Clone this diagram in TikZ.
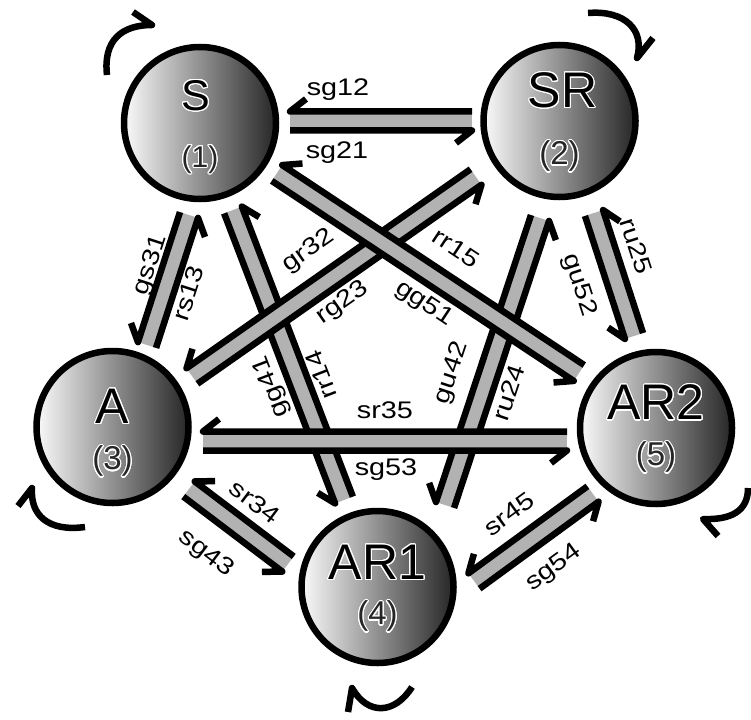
\documentclass[tikz,border=0pt]{standalone}
\usepackage{fontspec}
\setmainfont{Liberation Sans}
\newfontfamily\lblfont[FakeStretch=1.2]{Liberation Sans}
\usepackage{contour}
\contourlength{1.1pt}
\contournumber{24}
\usetikzlibrary{calc}
\tikzset{
  state/.style={circle, minimum size=152pt, inner sep=0pt, draw=black, line width=6.5pt,
    left color=black!2, right color=black!85},
  nm/.style={inner sep=0pt, font=\fontsize{50}{50}\selectfont},
  nmsmall/.style={inner sep=0pt, font=\fontsize{43}{43}\selectfont},
  num/.style={inner sep=0pt, font=\fontsize{33}{33}\selectfont, text=black!85},
  lbl/.style={inner sep=0pt, font=\lblfont\fontsize{24}{24}\selectfont},
  bandgray/.style={line width=20pt, draw=black!30},
  bandline/.style={line width=6.5pt, line join=round, draw=black},
  loopline/.style={line width=6.5pt, line join=round, draw=black}
}
\newcommand\dband[2]{%
  \draw[bandgray] (#1) -- (#2);
  \coordinate (u1) at ($(#1)!9.5pt!-90:(#2)$);
  \coordinate (u2) at ($(#2)!9.5pt!90:(#1)$);
  \coordinate (um) at ($(#2)!16pt!(#1)$);
  \coordinate (u3) at ($(um)!22pt!-90:(#2)$);
  \draw[bandline] (u1) -- (u2) -- (u3);
  \coordinate (v1) at ($(#2)!9.5pt!-90:(#1)$);
  \coordinate (v2) at ($(#1)!9.5pt!90:(#2)$);
  \coordinate (vm) at ($(#1)!16pt!(#2)$);
  \coordinate (v3) at ($(vm)!22pt!-90:(#1)$);
  \draw[bandline] (v1) -- (v2) -- (v3);
}
\begin{document}
\begin{tikzpicture}[x=1pt,y=-1pt]
\useasboundingbox (0,0) rectangle (751,719);

% states
\node[state] (S)   at (200,123) {};
\node[state] (SR)  at (559.5,121) {};
\node[state] (A)   at (112.5,427) {};
\node[state] (AR1) at (377.5,587) {};
\node[state] (AR2) at (656,428) {};

% band end points
\coordinate (e12a) at (290,121);  \coordinate (e12b) at (472,121);
\coordinate (e13a) at (189,215);  \coordinate (e13b) at (147,345);
\coordinate (e14a) at (233,210);  \coordinate (e14b) at (344,500);
\coordinate (e15a) at (277,173);  \coordinate (e15b) at (579,373);
\coordinate (e23a) at (476,177);  \coordinate (e23b) at (192,376);
\coordinate (e24a) at (540,218);  \coordinate (e24b) at (445,505);
\coordinate (e25a) at (594,213);  \coordinate (e25b) at (634,336);
\coordinate (e35a) at (203,441);  \coordinate (e35b) at (567,441);
\coordinate (e34a) at (189,489);  \coordinate (e34b) at (288,564);
\coordinate (e45a) at (474,581);  \coordinate (e45b) at (593,494);

% bands (lower ones first)
\dband{e14a}{e14b}
\dband{e24a}{e24b}
\dband{e23a}{e23b}
\dband{e15a}{e15b}
\dband{e12a}{e12b}
\dband{e13a}{e13b}
\dband{e25a}{e25b}
\dband{e34a}{e34b}
\dband{e45a}{e45b}
\dband{e35a}{e35b}

% state texts
\node[nmsmall] (tS)   at ($(S)+(-4,-27)$)  {\contour{white}{S}};
\node[num]     (nS)   at ($(S)+(0,37)$)    {\fontsize{30}{30}\selectfont\contour{white}{(1)}};
\node[nm]      (tSR)  at ($(SR)+(3,-30)$)  {\contour{white}{SR}};
\node[num]     (nSR)  at ($(SR)+(0,36)$)   {\contour{white}{(2)}};
\node[nm]      (tA)   at ($(A)+(0,-20)$)   {\contour{white}{A}};
\node[num]     (nA)   at ($(A)+(0,35)$)    {\contour{white}{(3)}};
\node[nm]      (tAR1) at ($(AR1)+(0,-24)$) {\contour{white}{AR1}};
\node[num]     (nAR1) at ($(AR1)+(0,30)$)  {\contour{white}{(4)}};
\node[nm]      (tAR2) at ($(AR2)+(0,-25)$) {\contour{white}{AR2}};
\node[num]     (nAR2) at ($(AR2)+(0,30)$)  {\contour{white}{(5)}};

% labels
\node[lbl] (l12) at (338,90)  {sg12};
\node[lbl] (l21) at (337,153) {sg21};
\node[lbl, rotate=72] (l31) at (151,265) {gs31};
\node[lbl, rotate=72] (l13) at (188,293) {rs13};
\node[lbl, rotate=35] (l32) at (309,251) {gr32};
\node[lbl, rotate=35] (l23) at (343,303) {rg23};
\node[lbl, rotate=111] (l41) at (272,387) {gg41};
\node[lbl, rotate=111] (l14) at (321,375) {rr14};
\node[lbl, rotate=-33.5] (l15) at (456,248) {rr15};
\node[lbl, rotate=-33.5] (l51) at (424,304) {gg51};
\node[lbl, rotate=71.7] (l42) at (452,373) {gu42};
\node[lbl, rotate=71.7] (l24) at (509,393) {ru24};
\node[lbl, rotate=-72] (l52) at (579,285) {gu52};
\node[lbl, rotate=-72] (l25) at (636,246) {ru25};
\node[lbl] (l35) at (385,410) {sr35};
\node[lbl] (l53) at (386,470) {sg53};
\node[lbl, rotate=-37] (l34) at (255,502) {sr34};
\node[lbl, rotate=-37] (l43) at (206,554) {sg43};
\node[lbl, rotate=36] (l45) at (509,514) {sr45};
\node[lbl, rotate=36] (l54) at (554,568) {sg54};

% self loops
\draw[loopline] (107,75) .. controls (103,40) and (122,25) .. (152,25) -- (133,12);
\draw[loopline] (588,13) .. controls (625,10) and (645,30) .. (637,58) -- (653,38);
\draw[loopline] (85,527) .. controls (48,532) and (30,515) .. (32,488) -- (18,506);
\draw[loopline] (748,488) .. controls (748,512) and (730,520) .. (703,519) -- (718,536);
\draw[loopline] (412,687) .. controls (395,714) and (368,716) .. (352,688) -- (348,712);
\end{tikzpicture}
\end{document}
